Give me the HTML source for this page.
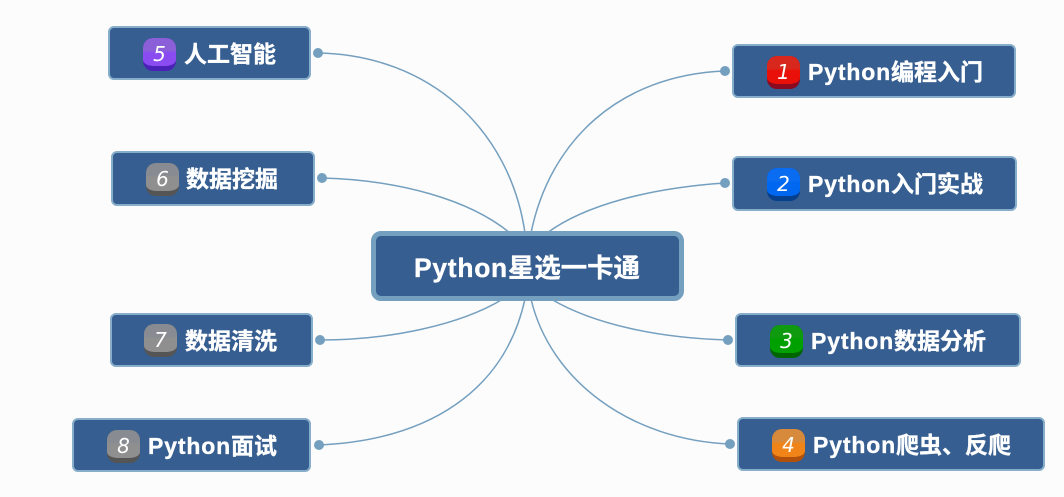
<!DOCTYPE html>
<html><head><meta charset="utf-8">
<style>
html,body{margin:0;padding:0;width:1064px;height:497px;overflow:hidden;background:#fcfcfc}
body{position:relative;font-family:"Liberation Sans","Noto Sans CJK SC",sans-serif}
svg{position:absolute;left:0;top:0}
.n{position:absolute;box-sizing:border-box;background:#365e90;border:2px solid #86adc9;border-radius:6px}
.b{position:absolute;width:33px;height:33px;border-radius:10px;box-sizing:border-box;color:#fff;font:italic 20px/32px "DejaVu Sans",sans-serif;text-align:center;isolation:isolate;background:var(--d)}
.b::before{content:"";position:absolute;left:0;top:0;width:33px;height:28px;border-radius:10px 10px 11px 11px/10px 10px 6px 6px;background:linear-gradient(var(--a) 0,var(--a) 12px,var(--m) 15px);z-index:-1}
.t{position:absolute;color:#fff;font-weight:700;font-size:23px;line-height:30px;white-space:nowrap;-webkit-text-stroke:.35px #fff}
.p{letter-spacing:.85px}
.c{position:absolute;left:371px;top:231px;width:313px;height:70px;box-sizing:border-box;background:#365e90;border:5px solid #749fbf;border-radius:10px}
.g{--a:#888c92;--m:#8f8f8f;--d:#555}
</style></head><body>
<svg width="1064" height="497" fill="none" stroke="#749fbf" stroke-width="1.5">
<path d="M318 53C430 55 510 130 525 233"/>
<path d="M725 71C620 75 550 140 531 233"/>
<path d="M322 178C400 180 470 200 510 233"/>
<path d="M725 183C650 188 585 205 547 233"/>
<path d="M320 340C390 340 460 325 503 299"/>
<path d="M728 340C660 338 595 325 551 299"/>
<path d="M319 445C430 440 505 390 525 299"/>
<path d="M730 444C630 440 550 380 531 299"/>
<g fill="#749fbf" stroke="none">
<circle cx="318" cy="53" r="5"/><circle cx="322" cy="178" r="5"/><circle cx="320" cy="340" r="5"/><circle cx="319" cy="445" r="5"/>
<circle cx="725" cy="71" r="5"/><circle cx="725" cy="183" r="5"/><circle cx="728" cy="340" r="5"/><circle cx="730" cy="444" r="5"/>
</g></svg>

<div class="c"></div>
<div class="t" style="left:414px;top:252px;font-size:26.4px;line-height:32px"><span style="letter-spacing:.75px">Python</span>星选一卡通</div>

<div class="n" style="left:108px;top:26px;width:203px;height:54px"></div>
<div class="b" style="left:143px;top:38px;--a:#8b5fd8;--m:#8a4cf0;--d:#4a22b8">5</div>
<div class="t" style="left:184px;top:39px">人工智能</div>

<div class="n" style="left:111px;top:151px;width:204px;height:55px"></div>
<div class="b g" style="left:146px;top:163px">6</div>
<div class="t" style="left:186px;top:164px">数据挖掘</div>

<div class="n" style="left:110px;top:313px;width:203px;height:54px"></div>
<div class="b g" style="left:144px;top:324px">7</div>
<div class="t" style="left:185px;top:326px">数据清洗</div>

<div class="n" style="left:72px;top:418px;width:239px;height:54px"></div>
<div class="b g" style="left:107px;top:430px">8</div>
<div class="t" style="left:148px;top:431px"><span class="p">Python</span>面试</div>

<div class="n" style="left:732px;top:44px;width:284px;height:54px"></div>
<div class="b" style="left:767px;top:56px;--a:#d8281e;--m:#e81008;--d:#8a0a20">1</div>
<div class="t" style="left:808px;top:57px"><span class="p">Python</span>编程入门</div>

<div class="n" style="left:732px;top:156px;width:285px;height:55px"></div>
<div class="b" style="left:767px;top:168px;--a:#0a6cf0;--m:#0068f0;--d:#063f8c">2</div>
<div class="t" style="left:808px;top:169px"><span class="p">Python</span>入门实战</div>

<div class="n" style="left:735px;top:313px;width:286px;height:54px"></div>
<div class="b" style="left:770px;top:325px;--a:#0f9a10;--m:#00a000;--d:#006400">3</div>
<div class="t" style="left:811px;top:326px"><span class="p">Python</span>数据分析</div>

<div class="n" style="left:737px;top:417px;width:308px;height:54px"></div>
<div class="b" style="left:772px;top:429px;--a:#d88a3c;--m:#f08418;--d:#b0500a">4</div>
<div class="t" style="left:813px;top:430px"><span class="p">Python</span>爬虫、反爬</div>
</body></html>
